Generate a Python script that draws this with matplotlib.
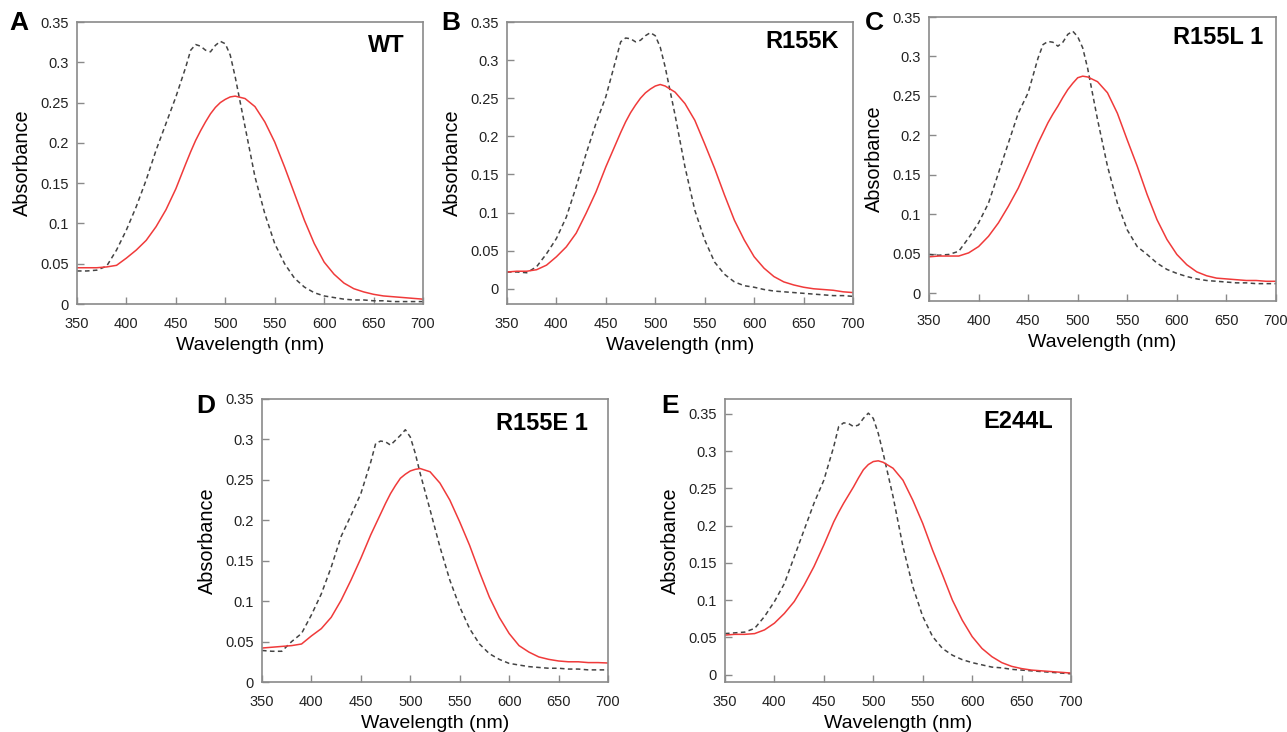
#!/usr/bin/env python3
import matplotlib
matplotlib.use('Agg')
import matplotlib.pyplot as plt
from matplotlib.ticker import FuncFormatter

plt.rcParams['font.family'] = ['Liberation Sans', 'DejaVu Sans']

# wavelength grid (nm) shared by every trace
wl = [350, 360, 370, 380, 390, 400, 410, 420, 430, 440, 450, 460, 465, 470, 475,
      480, 485, 490, 495, 500, 505, 510, 520, 530, 540, 550, 560, 570, 580, 590,
      600, 610, 620, 630, 640, 650, 660, 670, 680, 690, 700]

# panel A - WT
wt_red = [.045, .045, .045, .046, .048, .057, .067, .079, .096, .117, .143, .174, .189, .203, .215,
          .226, .236, .244, .250, .254, .257, .258, .255, .245, .226, .201, .170, .137, .104, .075,
          .052, .037, .026, .019, .015, .012, .010, .009, .008, .007, .006]
wt_dash = [.041, .041, .042, .047, .067, .092, .121, .154, .191, .224, .257, .294, .315, .322, .320,
           .315, .313, .321, .326, .323, .309, .282, .220, .158, .112, .075, .050, .032, .021, .014,
           .010, .008, .006, .005, .005, .004, .004, .003, .003, .003, .003]

# panel B - R155K
r155k_red = [.022, .023, .023, .025, .031, .042, .055, .073, .099, .127, .160, .190, .205, .219, .231,
             .241, .250, .257, .262, .266, .268, .266, .258, .243, .221, .190, .158, .123, .090, .064,
             .042, .027, .016, .009, .005, .002, .000, -.001, -.002, -.004, -.005]
r155k_dash = [.022, .022, .021, .029, .046, .066, .094, .134, .177, .217, .252, .300, .324, .329, .328,
              .324, .326, .332, .336, .332, .317, .291, .228, .160, .103, .064, .035, .019, .009, .004,
              .002, -.001, -.003, -.004, -.005, -.006, -.007, -.008, -.009, -.009, -.010]

# panel C - R155L 1
r155l_red = [.046, .047, .047, .047, .051, .059, .072, .089, .110, .133, .161, .190, .203, .216, .227,
             .237, .248, .258, .266, .273, .275, .274, .268, .254, .228, .194, .161, .125, .093, .068,
             .049, .036, .027, .022, .019, .018, .017, .016, .016, .015, .015]
r155l_dash = [.049, .048, .049, .053, .070, .089, .114, .152, .190, .228, .254, .298, .315, .319, .318,
              .313, .318, .328, .332, .325, .311, .285, .220, .161, .114, .080, .059, .049, .038, .030,
              .025, .021, .018, .016, .015, .014, .013, .013, .012, .012, .012]

# panel D - R155E 1
r155e_red = [.042, .043, .044, .045, .047, .057, .066, .080, .101, .126, .153, .182, .195, .208, .221,
             .233, .243, .252, .257, .261, .263, .264, .260, .246, .225, .198, .169, .136, .105, .080,
             .060, .045, .037, .031, .028, .026, .025, .025, .024, .024, .0235]
r155e_dash = [.039, .038, .038, .050, .060, .083, .109, .142, .180, .206, .233, .272, .295, .298, .297,
              .293, .299, .305, .312, .303, .283, .258, .213, .167, .126, .093, .066, .047, .035, .028,
              .023, .021, .019, .018, .017, .017, .016, .016, .015, .015, .015]

# panel E - E244L
e244l_red = [.053, .054, .054, .055, .060, .069, .082, .098, .120, .145, .174, .205, .218, .230, .241,
             .252, .264, .275, .282, .286, .287, .285, .277, .261, .234, .203, .167, .134, .100, .073,
             .051, .035, .024, .016, .011, .008, .006, .005, .004, .003, .002]
e244l_dash = [.055, .056, .057, .062, .078, .098, .122, .158, .194, .230, .261, .306, .333, .338, .337,
              .333, .335, .344, .351, .344, .324, .297, .239, .172, .118, .078, .051, .035, .026, .020,
              .016, .013, .010, .009, .007, .006, .005, .004, .003, .002, .001]

letters = ['A', 'B', 'C', 'D', 'E']
names = ['WT', 'R155K', 'R155L 1', 'R155E 1', 'E244L']
reds = [wt_red, r155k_red, r155l_red, r155e_red, e244l_red]
dashes = [wt_dash, r155k_dash, r155l_dash, r155e_dash, e244l_dash]
ylims = [(0, 0.35), (-0.02, 0.35), (-0.01, 0.35), (0, 0.35), (-0.01, 0.37)]
yticks = [0, 0.05, 0.1, 0.15, 0.2, 0.25, 0.3, 0.35]
xticks = [350, 400, 450, 500, 550, 600, 650, 700]

W, H = 1287, 732
# axes boxes in pixels: left, top, right, bottom
boxes = [(77, 22, 423, 304), (507, 22, 853, 304), (929, 17, 1276, 301),
         (262, 399, 608, 682), (725, 399, 1071, 682)]
letter_pos = [(19, 23), (451, 23), (874, 23), (206, 406), (670, 406)]
name_pos = [(405, 45), (839, 42), (1263, 38), (588, 423), (1053, 422)]

fig = plt.figure(figsize=(W / 100, H / 100), dpi=100)
grey = '#8a8a8a'

for i in range(5):
    l, t, r, b = boxes[i]
    ax = fig.add_axes([l / W, 1 - b / H, (r - l) / W, (b - t) / H])
    ax.plot(wl, dashes[i], color='#444444', lw=1.1, dashes=(3, 2.2))
    ax.plot(wl, reds[i], color='#f03a3a', lw=1.1)
    ax.set_xlim(350, 700)
    ax.set_ylim(*ylims[i])
    ax.set_xticks(xticks)
    ax.set_yticks(yticks)
    ax.yaxis.set_major_formatter(FuncFormatter(lambda v, p: '%g' % round(v, 2)))
    ax.tick_params(direction='in', length=5, width=1, color=grey, labelsize=10.5,
                   labelcolor='#222222', pad=6)
    ax.tick_params(axis='x', pad=9)
    for s in ax.spines.values():
        s.set_color(grey)
        s.set_linewidth(1.2)
    ax.set_xlabel('Wavelength (nm)', fontsize=14, labelpad=5)
    ax.set_ylabel('Absorbance', fontsize=14.3, labelpad=6)
    fig.text(letter_pos[i][0] / W, 1 - letter_pos[i][1] / H, letters[i], fontsize=19,
             fontweight='bold', ha='center', va='center')
    fig.text(name_pos[i][0] / W, 1 - name_pos[i][1] / H, names[i], fontsize=17,
             fontweight='bold', ha='right', va='center')

fig.savefig('out.png', dpi=100)
